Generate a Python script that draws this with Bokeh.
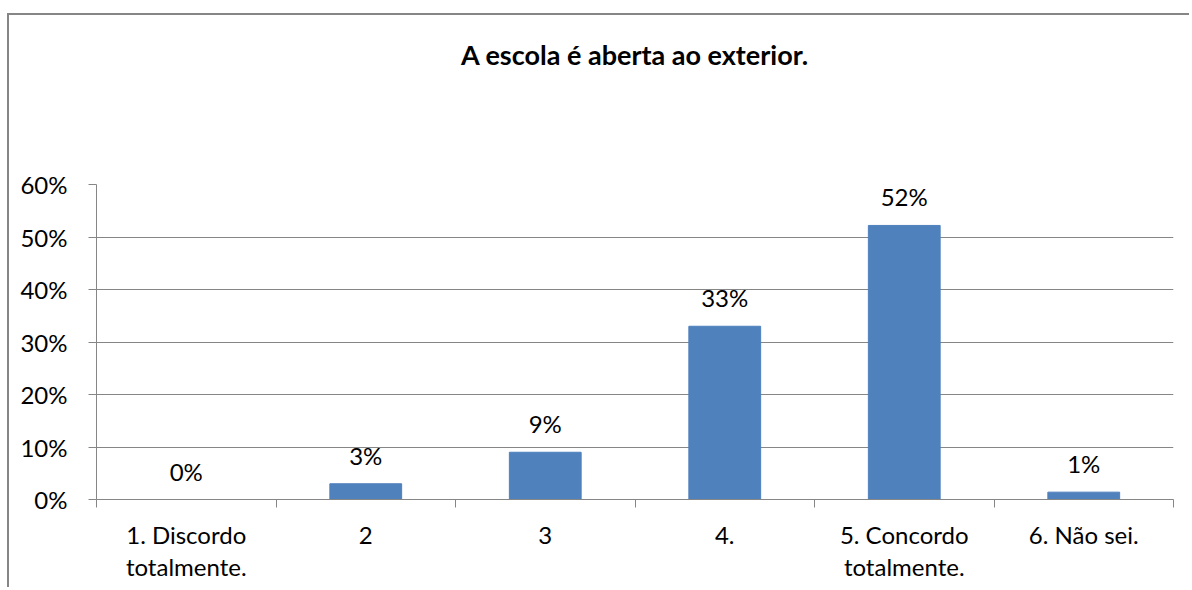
from bokeh.plotting import figure
from bokeh.models import (ColumnDataSource, Range1d, FixedTicker, PrintfTickFormatter, LabelSet,
                          LinearAxis)
from bokeh.core.properties import value
from bokeh.embed import file_html
from bokeh.resources import INLINE

title = "A escola é aberta ao exterior."
categories = ["1. Discordo\ntotalmente.", "2", "3", "4.", "5. Concordo\ntotalmente.", "6. Não sei."]
values = [0.0, 3.0, 9.0, 33.0, 52.2, 1.4]
value_labels = ["0%", "3%", "9%", "33%", "52%", "1%"]
y_ticks = [0, 10, 20, 30, 40, 50, 60]

FONT = "Lato"
GRAY = "#868686"
FS = "24px"

xs = [i + 0.5 for i in range(len(categories))]
src = ColumnDataSource(dict(x=xs, top=values, lab=value_labels))

p = figure(width=1182, height=574, output_backend="svg", toolbar_location=None,
           x_range=Range1d(0, len(categories)), y_range=Range1d(0, 60),
           min_border_left=87, min_border_right=18, min_border_top=169, min_border_bottom=90)
p.styles = {"border-left": "2px solid " + GRAY, "border-top": "2px solid " + GRAY,
            "margin-top": "13px", "margin-left": "7px"}
p.title = None

# chart title drawn as the label of an otherwise invisible axis above the plot area
top_axis = LinearAxis(ticker=FixedTicker(ticks=[]), axis_line_color=None, major_tick_line_color=None,
                      minor_tick_line_color=None, major_tick_out=0, major_tick_in=0,
                      minor_tick_out=0, minor_tick_in=0, major_label_standoff=0,
                      axis_label=title, axis_label_standoff=114,
                      axis_label_text_font=FONT, axis_label_text_font_size="27px",
                      axis_label_text_font_style="bold", axis_label_text_color="black")
p.add_layout(top_axis, "above")

p.vbar(x="x", top="top", width=0.4, source=src, color="#4F81BD")

p.add_layout(LabelSet(x="x", y="top", text="lab", source=src, text_align="center",
                      text_baseline="alphabetic", y_offset=19, text_font=value(FONT),
                      text_font_size=FS, text_color="black"))

p.outline_line_color = None
p.xgrid.grid_line_color = None
p.ygrid.grid_line_color = GRAY
p.ygrid.ticker = FixedTicker(ticks=y_ticks)

p.yaxis.ticker = FixedTicker(ticks=y_ticks)
p.yaxis.formatter = PrintfTickFormatter(format="%d%%")
p.yaxis.axis_line_color = GRAY
p.yaxis.major_tick_line_color = GRAY
p.yaxis.major_tick_out = 8
p.yaxis.major_tick_in = 0
p.yaxis.minor_tick_line_color = None
p.yaxis.major_label_text_font = FONT
p.yaxis.major_label_text_font_size = FS
p.yaxis.major_label_text_color = "black"
p.yaxis.major_label_standoff = 21

bottom = p.below[0]
bottom.ticker = FixedTicker(ticks=xs, minor_ticks=list(range(len(categories) + 1)))
bottom.major_label_overrides = {x: c for x, c in zip(xs, categories)}
bottom.axis_line_color = GRAY
bottom.major_tick_line_color = None
bottom.major_tick_out = 0
bottom.major_tick_in = 0
bottom.minor_tick_line_color = GRAY
bottom.minor_tick_out = 8
bottom.minor_tick_in = 0
bottom.major_label_text_font = FONT
bottom.major_label_text_font_size = FS
bottom.major_label_text_color = "black"
bottom.major_label_text_line_height = 1.12
bottom.major_label_standoff = 12

open("out.html", "w").write(file_html(p, INLINE))
